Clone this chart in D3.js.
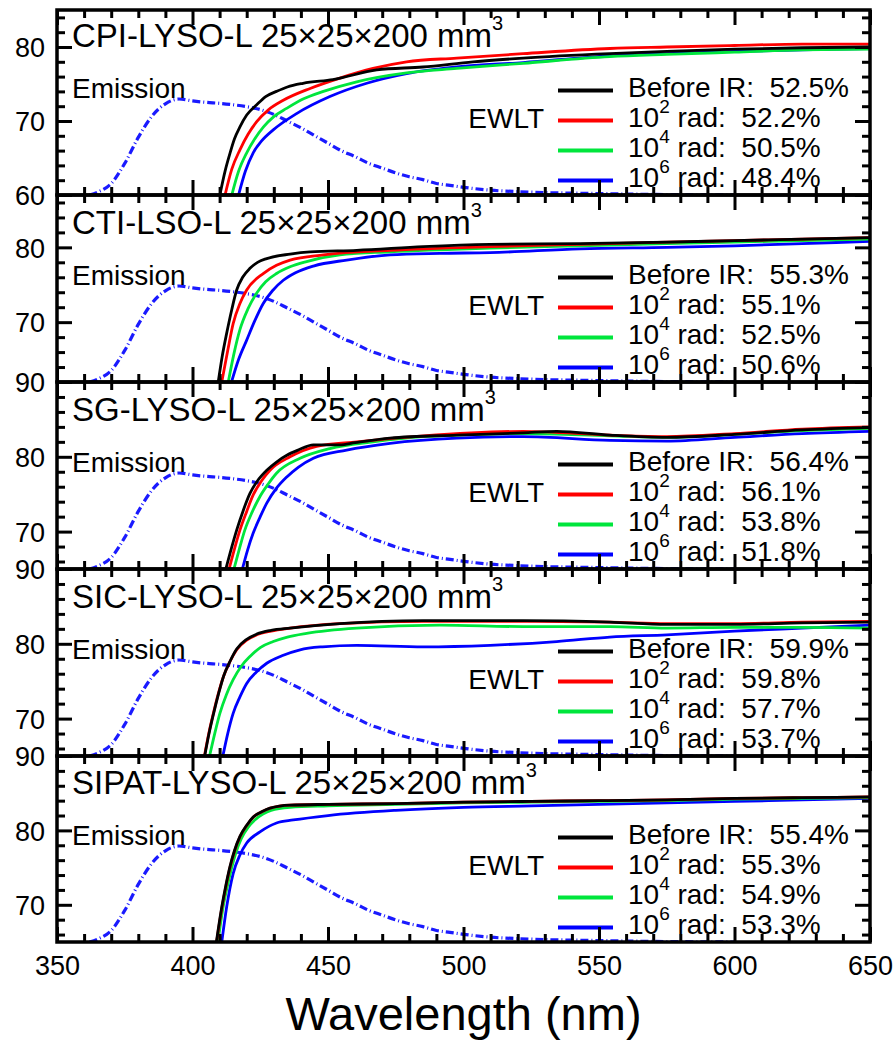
<!DOCTYPE html>
<html><head><meta charset="utf-8">
<script src="https://cdn.jsdelivr.net/npm/d3@7"></script>
<style>
body{margin:0;background:#fff}
text{font-family:"Liberation Sans",Arial,Helvetica,sans-serif;fill:#000;white-space:pre}
</style>
</head><body>
<svg id="c" width="896" height="1040"></svg>
<script>
// ---------------- data ----------------
const xTickValues = [350, 400, 450, 500, 550, 600, 650];
const panelTitles = ["CPI-LYSO-L", "CTI-LSO-L", "SG-LYSO-L", "SIC-LYSO-L", "SIPAT-LYSO-L"];
const panelDims = "25×25×200 mm";
const panelYDomains = [[60, 85], [62, 87], [65, 90], [65, 90], [65, 90]];
const seriesLabels = ["Before IR", "2", "4", "6"]; // dose exponents for 10^n rad
const seriesColors = ["#000000", "#ff0000", "#00e63c", "#0000ff"];
const ewltValues = [
  ["52.5%", "52.2%", "50.5%", "48.4%"],
  ["55.3%", "55.1%", "52.5%", "50.6%"],
  ["56.4%", "56.1%", "53.8%", "51.8%"],
  ["59.9%", "59.8%", "57.7%", "53.7%"],
  ["55.4%", "55.3%", "54.9%", "53.3%"]
];

// Emission spectrum (normalised, peak = 1)
const emissionWl  = [362,365,370,375,380,385,390,395,400,405,410,415,420,425,430,435,440,445,450,455,460,465,470,475,480,485,490,495,500,510,520,530,540,550,560,575,600];
const emissionVal = [0,0.03,0.12,0.33,0.60,0.82,0.95,1.0,0.98,0.965,0.955,0.94,0.92,0.89,0.84,0.77,0.70,0.62,0.54,0.46,0.40,0.33,0.28,0.23,0.19,0.16,0.12,0.10,0.08,0.05,0.035,0.025,0.02,0.015,0.01,0.005,0];

// Transmittance (%) vs wavelength (nm): [wl, T]
const cpiBefore = [[410.1,60],[412,63.2],[413.8,65.6],[415.5,67.6],[417.5,69.2],[420,70.8],[423.7,72.2],[427,73.3],[431,74.0],[435,74.6],[440.8,75.1],[451.8,75.6],[468,76.9],[485,77.3],[503.5,78.0],[522,78.5],[554,79.1],[575,79.4],[600,79.7],[625,79.9],[650,80.0]];
const cpiR2 = [[412,60],[414.5,63.5],[417.5,66.1],[420.5,68.2],[423.7,69.9],[428,71.5],[433.5,72.8],[443.4,74.4],[454.4,75.8],[466.6,77.1],[479,78.0],[497.5,78.5],[522,79.1],[554,79.8],[575,80.0],[600,80.2],[625,80.4],[650,80.4]];
const cpiR4 = [[414.5,60],[417,63.2],[420,65.7],[423,67.6],[426.2,69.2],[430,70.6],[434.7,71.7],[441,73.0],[448.3,74.0],[460.6,75.3],[479,76.5],[497.5,77.1],[522,77.8],[554,78.7],[575,79.0],[600,79.3],[625,79.6],[650,79.7]];
const cpiR6 = [[417,60],[419.5,63.2],[422.4,65.7],[425.5,67.3],[429.8,68.8],[438.4,71.0],[450.7,73.3],[464.3,75.1],[479,76.4],[497.5,77.3],[522,77.9],[554,78.8],[575,79.1],[600,79.4],[625,79.6],[650,79.8]];

const ctiBefore = [[409.5,62],[411,65.5],[412.6,68.5],[414.5,71.7],[416.3,74.3],[418.5,76],[421.2,77.2],[424,78],[427.4,78.5],[436,79.1],[443.4,79.4],[460.6,79.6],[485.2,80.1],[509.8,80.4],[543,80.5],[575,80.7],[600,80.9],[625,81.1],[650,81.3]];
const ctiR2 = [[410.8,62],[413,66.2],[415,69.8],[417.5,72.5],[420,74.3],[426.1,76.5],[431,77.6],[436,78.3],[448.3,79.0],[472.9,79.6],[509.8,80.1],[543,80.4],[575,80.7],[600,80.9],[625,81.1],[650,81.3]];
const ctiR4 = [[413.2,62],[415.3,65.8],[417.5,69.0],[420.5,71.8],[423.7,73.9],[427,75.4],[431,76.5],[436,77.4],[442.1,78.1],[454.4,79.0],[472.9,79.4],[509.8,79.9],[543,80.2],[575,80.5],[600,80.7],[625,80.9],[650,81.1]];
const ctiR6 = [[414.4,62],[417,65],[420,67.6],[423,70.2],[426.1,72.5],[429.5,74.2],[433.5,75.6],[438,76.6],[444.6,77.5],[456.9,78.3],[472.9,79.0],[491.3,79.2],[509.8,79.3],[543,79.8],[575,80.0],[600,80.2],[625,80.5],[650,80.8]];

const sgBefore = [[412.3,65],[414.3,67.7],[416.3,70.2],[418.7,72.8],[421.2,75.1],[424,76.8],[427.4,78.2],[431,79.3],[434.8,80.2],[439,80.9],[444.6,81.6],[454.4,81.6],[460,81.9],[472.9,82.5],[497.5,82.9],[522,83.2],[534.4,83.4],[554,82.9],[575,82.6],[600,83.0],[625,83.6],[650,83.9]];
const sgR2 = [[413.5,65],[415.5,67.7],[417.5,70.2],[420,72.7],[422.4,74.9],[425.5,76.8],[428.6,78.2],[436,80.0],[445.8,81.4],[460.6,82.0],[485.2,82.8],[522,83.4],[554,82.9],[575,82.7],[600,83.1],[625,83.7],[650,84.0]];
const sgR4 = [[415.3,65],[417.3,67.7],[419.3,70.2],[422,72.6],[424.9,74.7],[428,76.4],[431,77.8],[439.7,79.8],[450.7,81.1],[466.7,82.0],[485.2,82.7],[522,83.1],[554,82.8],[575,82.6],[600,83.0],[625,83.5],[650,83.8]];
const sgR6 = [[418.4,65],[420.3,67.5],[422.4,69.8],[425,72],[427.4,73.8],[431,75.8],[434.8,77.3],[439,78.6],[444.6,79.8],[456.9,80.9],[472.9,81.8],[497.5,82.5],[522,82.7],[554,82.2],[575,82.1],[600,82.6],[625,83.1],[650,83.4]];

const sicBefore = [[404.5,65],[406.1,68],[407.8,70.7],[409.6,73.3],[411.5,75.7],[413.9,77.7],[416.3,79.3],[420,80.6],[423.7,81.3],[429,81.8],[436,82.1],[454.4,82.7],[485.2,83.1],[522,83.1],[554,82.9],[575,82.6],[600,82.6],[625,82.8],[650,82.9]];
const sicR2 = [[404.4,65],[406,68],[407.7,70.7],[409.5,73.3],[411.4,75.6],[413.8,77.6],[416.3,79.2],[420,80.5],[423.7,81.2],[429,81.7],[436,82.1],[454.4,82.7],[485.2,83.0],[522,83.0],[554,82.9],[575,82.7],[600,82.7],[625,82.9],[650,83.0]];
const sicR4 = [[406.3,65],[408.2,68],[410.1,70.7],[412.5,73.2],[415,75.2],[418,77],[421.2,78.3],[425,79.5],[429.8,80.3],[435,80.9],[442.1,81.4],[460.6,82.1],[491.3,82.5],[522,82.3],[554,82.3],[575,82.1],[600,82.2],[625,82.2],[650,82.1]];
const sicR6 = [[411.2,65],[413,68],[415,70.7],[417.5,72.9],[420,74.7],[423.5,76.2],[427.4,77.4],[433,78.4],[439.7,79.2],[448,79.6],[460.6,79.8],[485.2,79.6],[509.8,79.8],[534.4,80.3],[554,80.9],[575,81.2],[600,81.7],[625,82.1],[650,82.5]];

const sipatBefore = [[408.8,65],[410.8,69.7],[412.3,72.6],[413.8,75.1],[415.5,77.3],[417.5,79.2],[420,80.7],[422.4,81.8],[425.5,82.5],[428.6,83.0],[436,83.4],[450,83.5],[475,83.6],[500,83.8],[525,83.9],[550,84.0],[575,84.1],[600,84.3],[625,84.4],[650,84.5]];
const sipatR2 = [[408.9,65],[410.9,69.7],[412.4,72.6],[413.9,75.1],[415.6,77.3],[417.6,79.2],[420.1,80.7],[422.5,81.8],[425.6,82.5],[428.7,83.0],[436,83.4],[450,83.5],[475,83.6],[500,83.8],[525,83.9],[550,84.0],[575,84.1],[600,84.3],[625,84.4],[650,84.5]];
const sipatR4 = [[409.4,65],[411.3,69.7],[412.8,72.4],[414.4,74.9],[416,77],[418,78.9],[420.5,80.4],[423,81.4],[426,82.2],[429,82.7],[436,83.1],[450,83.3],[475,83.5],[500,83.7],[525,83.8],[550,83.9],[575,84.0],[600,84.2],[625,84.3],[650,84.4]];
const sipatR6 = [[410.8,65],[412.6,69.7],[415,74.2],[417.5,76.7],[420,78.3],[424.9,79.8],[431,81.0],[437.2,81.4],[450,82.0],[475,82.7],[500,83.1],[525,83.3],[550,83.5],[575,83.7],[600,83.9],[625,84.1],[650,84.3]];

const panelSeries = [
  [cpiBefore, cpiR2, cpiR4, cpiR6],
  [ctiBefore, ctiR2, ctiR4, ctiR6],
  [sgBefore, sgR2, sgR4, sgR6],
  [sicBefore, sicR2, sicR4, sicR6],
  [sipatBefore, sipatR2, sipatR4, sipatR6]
];

// ---------------- layout ----------------
const svg = d3.select("#c");
const left = 57, right = 870;
const panelTops = [10, 195, 382, 569, 756];
const lastBottom = 942;
const x = d3.scaleLinear().domain([350, 650]).range([left, right]);
const minorX = d3.range(350, 651, 10);
const FS = 28;

const defs = svg.append("defs");

panelTitles.forEach((title, i) => {
  const top = panelTops[i];
  const bottom = i < 4 ? panelTops[i + 1] : lastBottom;
  const [y0, y1] = panelYDomains[i];
  const y = d3.scaleLinear().domain([y0, y1]).range([bottom, top]);
  const yEm = d3.scaleLinear().domain([0, 1]).range([bottom, bottom - 96]);
  const g = svg.append("g");

  defs.append("clipPath").attr("id", "clip" + i)
    .append("rect").attr("x", left).attr("y", top).attr("width", right - left).attr("height", bottom - top);

  const plot = g.append("g").attr("clip-path", `url(#clip${i})`);

  // emission
  const emLine = d3.line().x((d, k) => x(emissionWl[k])).y(d => yEm(d)).curve(d3.curveMonotoneX);
  plot.append("path").datum(emissionVal).attr("d", emLine)
    .attr("fill", "none").attr("stroke", "#1a1aff").attr("stroke-width", 3.2)
    .attr("stroke-dasharray", "8,3,1,3");

  // transmittance curves (draw blue first so black on top)
  const line = d3.line().x(d => x(d[0])).y(d => y(d[1])).curve(d3.curveMonotoneX);
  [3, 2, 1, 0].forEach(s => {
    plot.append("path").datum(panelSeries[i][s]).attr("d", line)
      .attr("fill", "none").attr("stroke", seriesColors[s]).attr("stroke-width", 2.8)
      .attr("stroke-linejoin", "round");
  });

  // title
  const t = g.append("text").attr("x", 72).attr("y", bottom - 148).attr("font-size", 33);
  t.append("tspan").text(title + " " + panelDims);
  t.append("tspan").attr("font-size", 20).attr("dy", -17).text("3");

  // Emission label
  g.append("text").attr("x", 72).attr("y", bottom - 97).attr("font-size", FS).text("Emission");

  // legend
  seriesLabels.forEach((lab, s) => {
    const by = bottom - 98 + s * 30;
    g.append("line").attr("x1", 558).attr("x2", 613).attr("y1", by - 6.5).attr("y2", by - 6.5)
      .attr("stroke", seriesColors[s]).attr("stroke-width", 4);
    const tx = g.append("text").attr("x", 628).attr("y", by).attr("font-size", FS);
    if (s === 0) {
      tx.text(lab + ":  " + ewltValues[i][s]);
    } else {
      tx.append("tspan").text("10");
      tx.append("tspan").attr("font-size", 19).attr("dy", -14).text(lab);
      tx.append("tspan").attr("dy", 14).text(" rad:  " + ewltValues[i][s]);
    }
  });
  g.append("text").attr("x", 544).attr("y", bottom - 67).attr("text-anchor", "end")
    .attr("font-size", FS).text("EWLT");

  // axes ticks
  const majorY = d3.range(Math.ceil(y0 / 10) * 10, y1 + 0.001, 10);
  const minorY = d3.range(Math.ceil(y0 / 2) * 2, y1 + 0.001, 2).filter(v => v % 10 !== 0);
  const styleAxis = sel => {
    sel.select(".domain").remove();
    sel.selectAll(".tick line").attr("stroke", "#000").attr("stroke-width", 3);
  };
  g.append("g").attr("transform", `translate(${left},0)`)
    .call(d3.axisLeft(y).tickValues(minorY).tickSize(-8).tickFormat("")).call(styleAxis);
  g.append("g").attr("transform", `translate(${right},0)`)
    .call(d3.axisRight(y).tickValues(minorY).tickSize(-8).tickFormat("")).call(styleAxis);
  g.append("g").attr("transform", `translate(${right},0)`)
    .call(d3.axisRight(y).tickValues(majorY).tickSize(-15).tickFormat("")).call(styleAxis);
  const la = g.append("g").attr("transform", `translate(${left},0)`)
    .call(d3.axisLeft(y).tickValues(majorY).tickSize(-15).tickPadding(28).tickFormat(d3.format("d")))
    .call(styleAxis);
  la.selectAll(".tick text").attr("font-size", 27).attr("font-family", '"Liberation Sans",Arial,sans-serif')
    .attr("fill", "#000").attr("text-anchor", "end").attr("x", -12).attr("dy", "0.36em");

  const xMinor = minorX.filter(v => v % 50 !== 0);
  g.append("g").attr("transform", `translate(0,${bottom})`)
    .call(d3.axisBottom(x).tickValues(xMinor).tickSize(-8).tickFormat("")).call(styleAxis);
  g.append("g").attr("transform", `translate(0,${top})`)
    .call(d3.axisTop(x).tickValues(xMinor).tickSize(-8).tickFormat("")).call(styleAxis);
  g.append("g").attr("transform", `translate(0,${top})`)
    .call(d3.axisTop(x).tickValues(xTickValues).tickSize(-15).tickFormat("")).call(styleAxis);
  const bx = g.append("g").attr("transform", `translate(0,${bottom})`)
    .call(d3.axisBottom(x).tickValues(xTickValues).tickSize(-15).tickFormat(i === 4 ? d3.format("d") : ""))
    .call(styleAxis);
  bx.selectAll(".tick text").attr("font-size", 27).attr("font-family", '"Liberation Sans",Arial,sans-serif')
    .attr("fill", "#000").attr("y", 14).attr("dy", "0.71em");

  // frame
  g.append("rect").attr("x", left).attr("y", top).attr("width", right - left).attr("height", bottom - top)
    .attr("fill", "none").attr("stroke", "#000").attr("stroke-width", 3.5);
});

svg.append("text").attr("x", (left + right) / 2).attr("y", 1030).attr("text-anchor", "middle")
  .attr("font-size", 47).text("Wavelength (nm)");
</script>
</body></html>
